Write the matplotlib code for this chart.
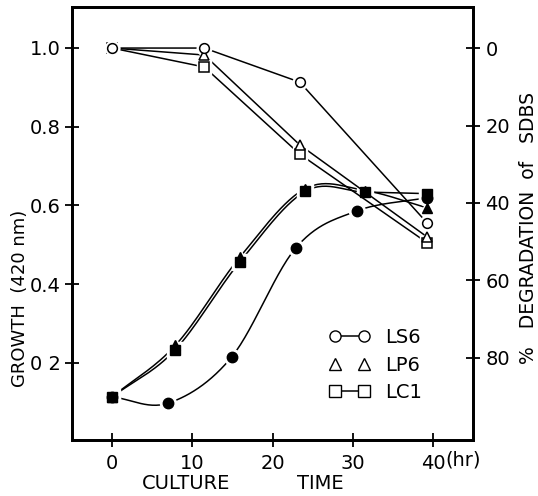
import numpy as np
import matplotlib
matplotlib.use("Agg")
import matplotlib.pyplot as plt
from matplotlib.lines import Line2D
import matplotlib.transforms as mtransforms

plt.rcParams['font.family'] = ['DejaVu Sans']

# ---- data ----
# degradation of SDBS (%), right axis, open markers
deg_time = [0, 11.5, 23.4, 39.3]
deg_LS6 = [0, 0, 8.8, 45.2]
deg_LP6 = [0, 1.8, 25.0, 48.8]
deg_LC1 = [0, 4.9, 27.4, 50.3]

# growth (420 nm), left axis, filled markers
gr_time_LS6 = [0, 7.0, 14.9, 22.9, 30.5, 39.3]
gr_LS6 = [0.114, 0.098, 0.215, 0.492, 0.586, 0.620]
gr_time_LP6 = [0, 7.9, 15.9, 24.0, 31.5, 39.3]
gr_LP6 = [0.114, 0.245, 0.468, 0.642, 0.638, 0.594]
gr_time_LC1 = [0, 7.8, 15.9, 24.1, 31.5, 39.3]
gr_LC1 = [0.114, 0.232, 0.456, 0.636, 0.634, 0.630]

left_ticks = [0.2, 0.4, 0.6, 0.8, 1.0]
left_labels = ['0 2', '0.4', '0.6', '0.8', '1.0']
right_ticks = [0, 20, 40, 60, 80]
x_ticks = [0, 10, 20, 30, 40]
series_names = ['LS6', 'LP6', 'LC1']
markers = ['o', '^', 's']


def smooth(xs, ys, n=30):
    """Catmull-Rom curve through the given points (for drawing the line only)."""
    p = np.column_stack([xs, ys]).astype(float)
    p = np.vstack([2 * p[0] - p[1], p, 2 * p[-1] - p[-2]])
    out = []
    t = np.linspace(0, 1, n)[:, None]
    for i in range(1, len(p) - 2):
        p0, p1, p2, p3 = p[i - 1], p[i], p[i + 1], p[i + 2]
        seg = 0.5 * ((2 * p1) + (-p0 + p2) * t + (2 * p0 - 5 * p1 + 4 * p2 - p3) * t ** 2
                     + (-p0 + 3 * p1 - 3 * p2 + p3) * t ** 3)
        out.append(seg)
    c = np.vstack(out)
    return c[:, 0], c[:, 1]


fig = plt.figure(figsize=(5.38, 4.96), dpi=100)
ax = fig.add_axes([72 / 538, 1 - 440 / 496, (473 - 72) / 538, (440 - 7) / 496])
ax2 = ax.twinx()

ax.set_xlim(-5, 45)
ax.set_ylim(0.0044, 1.104)
ax2.set_ylim(101.2, -10.6)

lw = 1.1
halo = dict(color='white', linestyle='none', zorder=3)

# growth curves (filled); LS6 drawn last so it sits on top
gdata = [(gr_time_LS6, gr_LS6), (gr_time_LP6, gr_LP6), (gr_time_LC1, gr_LC1)]
for k in (2, 1, 0):
    (t, g), m = gdata[k], markers[k]
    sx, sy = smooth(t, g)
    ax.plot(sx, sy, color='black', lw=lw, zorder=2)
    ax.plot(t, g, marker=m, markersize=11.5, **halo)
    ax.plot(t, g, marker=m, markersize=7.5, color='black', linestyle='none', zorder=4 + (2 - k) * 0.1)

# degradation lines (open)
ddata = [deg_LS6, deg_LP6, deg_LC1]
for k in (2, 1, 0):
    d, m = ddata[k], markers[k]
    ax2.plot(deg_time, d, color='black', lw=lw, zorder=2)
    ax2.plot(deg_time, d, marker=m, markersize=10.5, **halo)
    ax2.plot(deg_time, d, marker=m, markersize=7, color='black', mfc='white',
             mew=1.1, linestyle='none', zorder=4 + (2 - k) * 0.1)
# at the start point the LS6 circle hides the other two symbols
ax2.plot(deg_time[:1], deg_LS6[:1], marker='o', markersize=10, color='white',
         linestyle='none', zorder=4.15)

ax2.set_zorder(ax.get_zorder() + 1)
ax2.patch.set_visible(False)

# axes styling
for a in (ax, ax2):
    for s in a.spines.values():
        s.set_linewidth(2.0)

ax.set_xticks(x_ticks)
ax.set_xticklabels([str(v) for v in x_ticks])
ax.set_yticks(left_ticks)
ax.set_yticklabels(left_labels)
ax2.set_yticks(right_ticks)
ax2.set_yticklabels([str(v) for v in right_ticks])

ax.tick_params(axis='both', direction='inout', length=10, width=1.3, labelsize=14, pad=3,
               top=False, right=False)
ax.tick_params(axis='x', pad=5)
ax2.tick_params(axis='y', direction='inout', length=10, width=1.3, labelsize=14, pad=4)

# axis titles
fig.text(20 / 538, 1 - 298 / 496, 'GROWTH  (420 nm)', rotation=90, ha='center', va='center',
         fontsize=13)
fig.text(529 / 538, 1 - 228 / 496, '%   DEGRADATION  of   SDBS', rotation=90, ha='center',
         va='center', fontsize=13.5)
trans = mtransforms.blended_transform_factory(ax.transData, ax.transAxes)
ax.text(41.6, -0.025, '(hr)', transform=trans, ha='left', va='top', fontsize=14)
ax.text(9.25, -0.10, 'CULTURE', transform=trans, ha='center', va='center', fontsize=14)
ax.text(25.9, -0.10, 'TIME', transform=trans, ha='center', va='center', fontsize=14)

# legend
handles = [
    Line2D([], [], marker='o', color='black', mfc='white', lw=1.1, markersize=8),
    Line2D([], [], marker='^', color='black', mfc='white', lw=0, markersize=8),
    Line2D([], [], marker='s', color='black', mfc='white', lw=1.1, markersize=8),
]
ax.legend(handles, series_names, numpoints=2, frameon=False, fontsize=14,
          loc='upper left', bbox_to_anchor=(329 / 538, 1 - 328 / 496),
          bbox_transform=fig.transFigure, handlelength=2.1, handletextpad=0.8,
          labelspacing=0.44, borderpad=0, borderaxespad=0)

fig.savefig('out.png', dpi=100)
